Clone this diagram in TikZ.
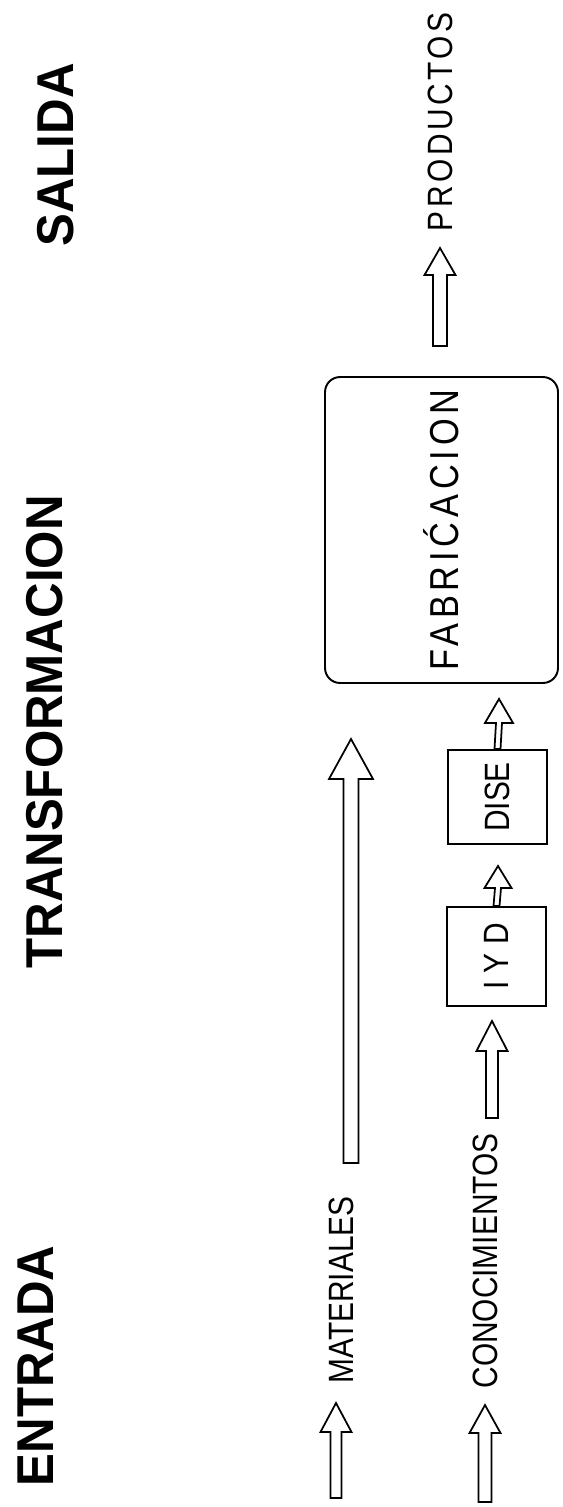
\documentclass[tikz,border=0pt]{standalone}
\usepackage{fontspec}
\setmainfont{Liberation Sans}
\newfontfamily\lblfont{Liberation Sans}[FakeStretch=0.85]
\newfontfamily\headfont{Liberation Sans}[FakeStretch=0.95]
\usetikzlibrary{calc}

\tikzset{
  heading/.style={font=\headfont\bfseries\fontsize{29.5}{30}\selectfont, rotate=90, inner sep=0pt},
  lbltext/.style={font=\lblfont\fontsize{20}{20}\selectfont, rotate=90, inner sep=0pt},
  stagebox/.style={draw, line width=1.1pt, inner sep=0pt, font=\lblfont\fontsize{20}{20}\selectfont},
  arrowline/.style={draw, line width=1pt, line join=miter},
}

% hollow block arrow: base point, tip point, shaft half-width, head half-width, head length
\newcommand\hollowarrow[5]{%
  \draw[arrowline] ($(#1)+(-#3,0)$) -- ($(#2)+(-#3,#5)$) -- ($(#2)+(-#4,#5)$) -- (#2)
    -- ($(#2)+(#4,#5)$) -- ($(#2)+(#3,#5)$) -- ($(#1)+(#3,0)$) -- cycle;}

\begin{document}
\begin{tikzpicture}[x=0.02cm, y=-0.02cm]
\useasboundingbox (0,0) rectangle (562,1507);
\fill[white] (0,0) rectangle (562,1507);

% column headings
\node[heading] (entrada) at (36,1366) {ENTRADA};
\node[heading] (transf) at (45,732) {TRANSFORMACION};
\node[heading] (salida) at (56,155) {SALIDA};

% process stages
\node[stagebox, rounded corners=0.3cm, minimum width=4.66cm, minimum height=6.12cm,
      font=\lblfont\addfontfeature{LetterSpace=12}\fontsize{23}{23}\selectfont]
  (fab) at (441.5,530) {\rotatebox{90}{FABRIĆACION}};
\node[stagebox, minimum width=1.98cm, minimum height=1.98cm] (iyd) at (496.5,956.5) {\rotatebox{90}{I Y D}};
\node[stagebox, minimum width=1.98cm, minimum height=1.88cm] (dise) at (497.5,797) {\rotatebox{90}{DISE}};

% inputs and output
\node[lbltext] (mat) at (341,1290) {MATERIALES};
\node[lbltext] (con) at (485,1261) {CONOCIMIENTOS};
\node[lbltext, font=\lblfont\addfontfeature{LetterSpace=10}\fontsize{20}{20}\selectfont] (prod) at (440,122) {PRODUCTOS};

% arrow end points
\coordinate (matbase) at (336,1498);
\coordinate (mattip) at (336,1403);
\coordinate (conbase) at (485,1502);
\coordinate (contip) at (485,1405);
\coordinate (rdbase) at (492,1118);
\coordinate (rdtip) at ($(iyd.south)+(-4.5,14)$);
\coordinate (longbase) at (351,1163);
\coordinate (longtip) at (351,739);
\coordinate (disetip) at ($(dise.south)+(0.5,21)$);
\coordinate (fabtip) at ($(fab.south)+(57.5,15)$);
\coordinate (prodbase) at ($(fab.north)+(-1.5,-30)$);
\coordinate (prodtip) at (440,248);

% arrows
\hollowarrow{matbase}{mattip}{5.5}{15.5}{29}
\hollowarrow{conbase}{contip}{6.5}{15.5}{28}
\hollowarrow{rdbase}{rdtip}{6}{15.5}{30}
\hollowarrow{longbase}{longtip}{7.5}{22}{40}
\hollowarrow{iyd.north}{disetip}{3}{13.5}{22}
\hollowarrow{dise.north}{fabtip}{3}{14}{24}
\hollowarrow{prodbase}{prodtip}{7}{15.5}{27}
\end{tikzpicture}
\end{document}
